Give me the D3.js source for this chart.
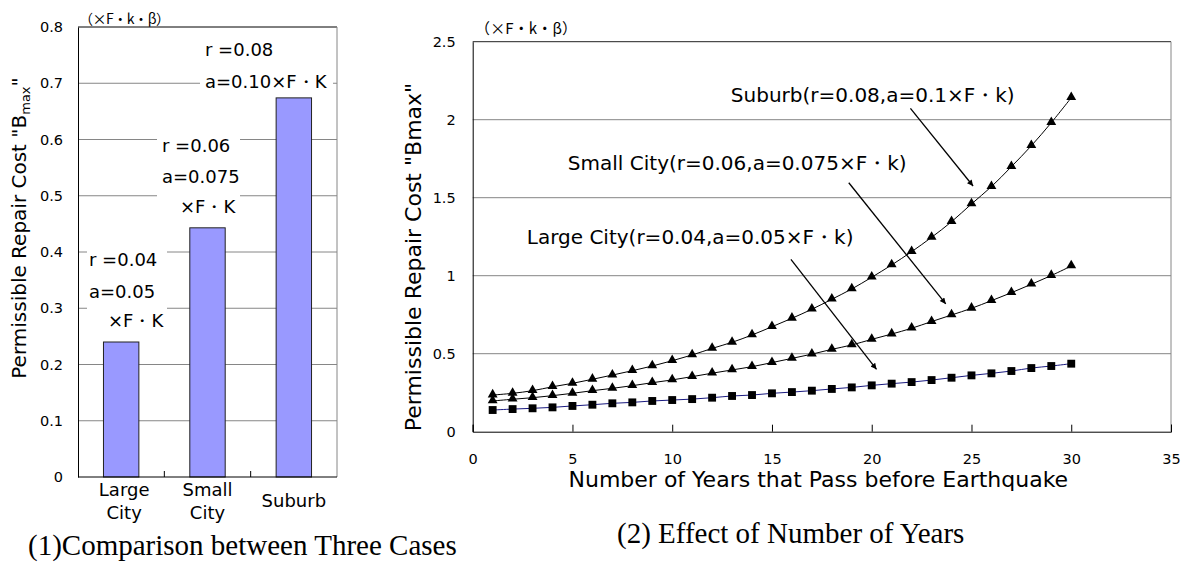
<!DOCTYPE html>
<html><head><meta charset="utf-8">
<script src="https://cdn.jsdelivr.net/npm/d3@7"></script>
<style>body{margin:0;background:#fff}</style>
</head><body>
<svg id="c" width="1191" height="562" xmlns="http://www.w3.org/2000/svg"></svg>
<script>
// ---------- data ----------
const barCategories = ["Large City", "Small City", "Suburb"];
const barCategoryLines = [["Large", "City"], ["Small", "City"], ["Suburb"]];
const barValues = [0.24, 0.443, 0.674];
const barYTicks = [0, 0.1, 0.2, 0.3, 0.4, 0.5, 0.6, 0.7, 0.8];
const barNotes = [
  ["r =0.04", "a=0.05", "×F・K"],
  ["r =0.06", "a=0.075", "×F・K"],
  ["r =0.08", "a=0.10×F・K"]
];

const years = [1,2,3,4,5,6,7,8,9,10,11,12,13,14,15,16,17,18,19,20,21,22,23,24,25,26,27,28,29,30];
const suburb = [0.235,0.246,0.263,0.288,0.310,0.336,0.363,0.391,0.421,0.455,0.492,0.534,0.573,0.620,0.673,0.727,0.785,0.849,0.915,0.990,1.069,1.154,1.246,1.346,1.460,1.571,1.699,1.833,1.981,2.141];
const smallCity = [0.197,0.208,0.218,0.231,0.246,0.263,0.278,0.295,0.314,0.332,0.353,0.375,0.396,0.417,0.443,0.470,0.497,0.528,0.556,0.592,0.626,0.663,0.706,0.748,0.791,0.840,0.891,0.945,1.001,1.062];
const largeCity = [0.139,0.145,0.150,0.156,0.165,0.173,0.182,0.188,0.197,0.203,0.209,0.218,0.229,0.235,0.246,0.254,0.263,0.274,0.284,0.297,0.308,0.318,0.331,0.346,0.361,0.374,0.389,0.408,0.421,0.436];
const lineXTicks = [0, 5, 10, 15, 20, 25, 30, 35];
const lineYTicks = [0, 0.5, 1, 1.5, 2, 2.5];
const lineNotes = [
  "Suburb(r=0.08,a=0.1×F・k)",
  "Small City(r=0.06,a=0.075×F・k)",
  "Large City(r=0.04,a=0.05×F・k)"
];
const unitLabel = "（×F・k・β）";
const caption1 = "(1)Comparison between Three Cases";
const caption2 = "(2) Effect of Number of Years";
const xTitle = "Number of Years that Pass before Earthquake";
const yTitle = "Permissible Repair Cost \"Bmax\"";

// ---------- layout ----------
const SANS = "'DejaVu Sans', sans-serif";
const SERIF = "'Liberation Serif', 'Times New Roman', serif";
const CJK = "'Noto Sans CJK JP', sans-serif";
const GRID = "#868686";

const svg = d3.select("#c");
svg.append("rect").attr("width", 1191).attr("height", 562).attr("fill", "#fff");

// ===== Left chart =====
const L = {x0: 78, x1: 337, yTop: 27, yBot: 477};
const x1s = d3.scaleBand().domain(barCategories).range([L.x0, L.x1]).paddingInner(0.59).paddingOuter(0.295);
const y1s = d3.scaleLinear().domain([0, 0.8]).range([L.yBot, L.yTop]);
const gL = svg.append("g");

gL.selectAll("line.grid").data(barYTicks.filter(v => v > 0 && v < 0.8)).join("line")
  .attr("x1", L.x0).attr("x2", L.x1)
  .attr("y1", d => y1s(d)).attr("y2", d => y1s(d))
  .attr("stroke", GRID).attr("stroke-width", 1);
gL.append("line").attr("x1", L.x0).attr("x2", L.x1).attr("y1", y1s(0.8)).attr("y2", y1s(0.8)).attr("stroke", "#000");
gL.append("line").attr("x1", L.x1).attr("x2", L.x1).attr("y1", y1s(0.8)).attr("y2", y1s(0)).attr("stroke", GRID);

gL.selectAll("rect.bar").data(barValues).join("rect")
  .attr("x", (d, i) => x1s(barCategories[i]))
  .attr("width", x1s.bandwidth())
  .attr("y", d => y1s(d))
  .attr("height", d => y1s(0) - y1s(d))
  .attr("fill", "#9999ff").attr("stroke", "#222").attr("stroke-width", 1);

const ayL = gL.append("g").attr("transform", `translate(${L.x0},0)`)
  .call(d3.axisLeft(y1s).tickValues(barYTicks).tickSize(0).tickPadding(15).tickFormat(d3.format("")));
ayL.select(".domain").attr("stroke", "#000");
ayL.selectAll("text").attr("font-family", SANS).attr("font-size", 14.5).attr("fill", "#000");

gL.append("line").attr("x1", L.x0).attr("x2", L.x1).attr("y1", L.yBot).attr("y2", L.yBot).attr("stroke", "#000");
const step = x1s.step();
gL.selectAll("line.ctick").data(barCategories.slice(1)).join("line")
  .attr("x1", d => x1s(d) - (step - x1s.bandwidth()) / 2)
  .attr("x2", d => x1s(d) - (step - x1s.bandwidth()) / 2)
  .attr("y1", L.yBot).attr("y2", L.yBot - 6).attr("stroke", "#000");

barCategoryLines.forEach((lines, i) => {
  const cx = x1s(barCategories[i]) + x1s.bandwidth() / 2 + (i === 0 ? 3 : 0);
  const t = gL.append("text").attr("text-anchor", "middle").attr("font-family", SANS).attr("font-size", 18);
  if (lines.length === 2) {
    t.append("tspan").attr("x", cx).attr("y", 490).attr("dy", "0.35em").text(lines[0]);
    t.append("tspan").attr("x", cx).attr("y", 513).attr("dy", "0.35em").text(lines[1]);
  } else {
    t.append("tspan").attr("x", cx).attr("y", 501).attr("dy", "0.35em").text(lines[0]);
  }
});

const notePos = [
  {x: 89, ys: [260, 292, 321], dx: [0, 0, 19], box: [87, 247, 80, 85]},
  {x: 162, ys: [146, 177, 207], dx: [0, 0, 18], box: [157, 130, 83, 90]},
  {x: 205, ys: [50, 82], dx: [0, 0], box: [200, 35, 133, 60]}
];
barNotes.forEach((lines, i) => {
  const p = notePos[i];
  gL.append("rect").attr("x", p.box[0]).attr("y", p.box[1]).attr("width", p.box[2]).attr("height", p.box[3]).attr("fill", "#fff");
  lines.forEach((s, j) => {
    gL.append("text").attr("x", p.x + p.dx[j]).attr("y", p.ys[j]).attr("dy", "0.35em")
      .attr("font-family", SANS).attr("font-size", 18).text(s);
  });
});

gL.append("text").attr("x", 79).attr("y", 19).attr("dy", "0.35em").attr("font-family", CJK).attr("font-size", 14)
  .attr("textLength", 91).attr("lengthAdjust", "spacing").text(unitLabel);

const ytL = gL.append("text").attr("transform", "translate(19,228) rotate(-90)")
  .attr("text-anchor", "middle").attr("font-family", SANS).attr("font-size", 20).attr("dy", "0.35em");
ytL.append("tspan").text("Permissible Repair Cost \"B");
ytL.append("tspan").attr("font-size", 13).attr("dy", 4).text("max");
ytL.append("tspan").attr("dy", -4).text("\"");

svg.append("text").attr("x", 28).attr("y", 545).attr("dy", "0.35em").attr("font-family", SERIF).attr("font-size", 29).text(caption1);

// ===== Right chart =====
const R = {x0: 472.7, x1: 1171, yTop: 41.7, yBot: 431.7};
const x2s = d3.scaleLinear().domain([0, 35]).range([R.x0, R.x1]);
const y2s = d3.scaleLinear().domain([0, 2.5]).range([R.yBot, R.yTop]);
const gR = svg.append("g");

gR.selectAll("line.grid").data(lineYTicks.filter(v => v > 0 && v < 2.5)).join("line")
  .attr("x1", R.x0).attr("x2", R.x1)
  .attr("y1", d => y2s(d)).attr("y2", d => y2s(d))
  .attr("stroke", GRID);
gR.append("line").attr("x1", R.x0).attr("x2", R.x1).attr("y1", y2s(2.5)).attr("y2", y2s(2.5)).attr("stroke", "#222");
gR.append("line").attr("x1", R.x1).attr("x2", R.x1).attr("y1", y2s(2.5)).attr("y2", y2s(0)).attr("stroke", GRID);

const ayR = gR.append("g").attr("transform", `translate(${R.x0},0)`)
  .call(d3.axisLeft(y2s).tickValues(lineYTicks).tickSize(0).tickPadding(17).tickFormat(d3.format("")));
ayR.select(".domain").attr("stroke", "#000");
ayR.selectAll("text").attr("font-family", SANS).attr("font-size", 14.5).attr("fill", "#000");

const axR = gR.append("g").attr("transform", `translate(0,${R.yBot})`)
  .call(d3.axisBottom(x2s).tickValues(lineXTicks).tickSize(-7).tickPadding(22).tickFormat(d3.format("")));
axR.select(".domain").attr("stroke", "#000");
axR.selectAll(".tick line").attr("stroke", "#000");
axR.selectAll("text").attr("font-family", SANS).attr("font-size", 14.5).attr("fill", "#000");

const series = [
  {vals: suburb, color: "#000", marker: "tri"},
  {vals: smallCity, color: "#000", marker: "tri"},
  {vals: largeCity, color: "#1a1a80", marker: "sq"}
];
const lineGen = d3.line().x((d, i) => x2s(years[i])).y(d => y2s(d)).curve(d3.curveCatmullRom.alpha(0.5));
series.forEach(s => {
  gR.append("path").datum(s.vals).attr("d", lineGen).attr("fill", "none").attr("stroke", s.color).attr("stroke-width", 1);
  const sym = d3.symbol().type(s.marker === "tri" ? d3.symbolTriangle : d3.symbolSquare).size(s.marker === "tri" ? 42 : 62);
  gR.selectAll(null).data(s.vals).join("path")
    .attr("transform", (d, i) => `translate(${x2s(years[i])},${y2s(d) + (s.marker === "tri" ? -0.5 : 0)})`)
    .attr("d", sym).attr("fill", "#000");
});

const notePosR = [
  {tx: 12.94, ty: 2.158, a: [21.94, 2.073, 25.08, 1.575]},
  {tx: 4.77, ty: 1.722, a: [18.85, 1.596, 23.71, 0.819]},
  {tx: 2.71, ty: 1.248, a: [15.95, 1.105, 20.24, 0.40]}
];
svg.append("defs").append("marker").attr("id", "ah").attr("viewBox", "0 0 10 10")
  .attr("refX", 10).attr("refY", 5).attr("markerWidth", 10).attr("markerHeight", 6)
  .attr("markerUnits", "userSpaceOnUse").attr("orient", "auto")
  .append("path").attr("d", "M0,0 L10,5 L0,10 Z").attr("fill", "#000");
lineNotes.forEach((s, i) => {
  const p = notePosR[i];
  gR.append("text").attr("x", x2s(p.tx)).attr("y", y2s(p.ty)).attr("dy", "0.35em")
    .attr("font-family", SANS).attr("font-size", 20).text(s);
  gR.append("line").attr("x1", x2s(p.a[0])).attr("y1", y2s(p.a[1])).attr("x2", x2s(p.a[2])).attr("y2", y2s(p.a[3]))
    .attr("stroke", "#000").attr("stroke-width", 1.3).attr("marker-end", "url(#ah)");
});

gR.append("text").attr("x", 475).attr("y", 29).attr("dy", "0.35em").attr("font-family", CJK).attr("font-size", 15)
  .attr("textLength", 102).attr("lengthAdjust", "spacing").text(unitLabel);
gR.append("text").attr("transform", "translate(413,257) rotate(-90)").attr("text-anchor", "middle")
  .attr("dy", "0.35em").attr("font-family", SANS).attr("font-size", 22).text(yTitle);
gR.append("text").attr("x", (561.7 + 1075) / 2).attr("y", 479).attr("dy", "0.35em").attr("text-anchor", "middle")
  .attr("font-family", SANS).attr("font-size", 22).text(xTitle);
svg.append("text").attr("x", 617).attr("y", 533).attr("dy", "0.35em").attr("font-family", SERIF).attr("font-size", 29).text(caption2);
</script>
</body></html>
